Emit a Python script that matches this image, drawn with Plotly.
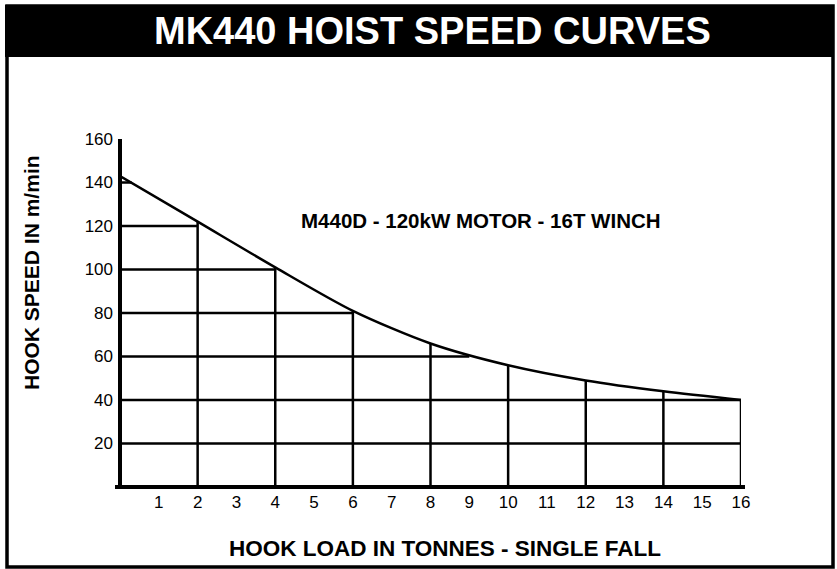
import plotly.graph_objects as go

# ---- data ----
loads = [0, 2, 4, 6, 8, 10, 12, 14, 16]              # tonnes
speeds = [143, 122, 101, 81, 66, 56, 49, 44, 40]      # m/min

# horizontal grid levels and the load where each one stops (at the curve)
grid_levels = [20, 40, 60, 80, 100, 120, 140]
grid_ends = [16, 16, 9, 6, 4, 2, 0.3]

# vertical grid loads (each rises to the curve)
vgrid_loads = [2, 4, 6, 8, 10, 12, 14, 16]

x_ticks = list(range(1, 17))
y_ticks = [20, 40, 60, 80, 100, 120, 140, 160]

title_text = "MK440 HOIST SPEED CURVES"
curve_label = "M440D - 120kW MOTOR - 16T WINCH"
x_title = "HOOK LOAD IN TONNES - SINGLE FALL"
y_title = "HOOK SPEED IN m/min"

# ---- layout geometry (pixels) ----
W, H = 837, 569
L, R, T, B = 120, 741, 139, 487
PW, PH = R - L, B - T


def px(x):
    return (x - L) / PW


def py(y):
    return (B - y) / PH


FONT = "Liberation Sans, Arial, sans-serif"

fig = go.Figure()

# speed at each vertical grid load taken from the curve data
speed_at = dict(zip(loads, speeds))

# horizontal grid lines
for lvl, end in zip(grid_levels, grid_ends):
    fig.add_trace(go.Scatter(x=[0, end], y=[lvl, lvl], mode="lines",
                             line=dict(color="black", width=2.5),
                             hoverinfo="skip", showlegend=False))
# vertical grid lines
for ld in vgrid_loads:
    fig.add_trace(go.Scatter(x=[ld, ld], y=[0, speed_at[ld]], mode="lines",
                             line=dict(color="black", width=2.5),
                             hoverinfo="skip", showlegend=False))

# the speed curve
fig.add_trace(go.Scatter(x=loads, y=speeds, mode="lines",
                         line=dict(color="black", width=2.5, shape="spline", smoothing=0.8),
                         showlegend=False, name="Hook speed"))

shapes = [
    # outer frame
    dict(type="rect", xref="paper", yref="paper",
         x0=px(7), x1=px(833), y0=py(567), y1=py(6),
         line=dict(color="black", width=3.5), fillcolor="rgba(0,0,0,0)", layer="below"),
    # title bar
    dict(type="rect", xref="paper", yref="paper",
         x0=px(5), x1=px(833), y0=py(57), y1=py(5),
         line=dict(width=0), fillcolor="black", layer="below"),
    # y axis line
    dict(type="line", xref="paper", yref="paper",
         x0=0, x1=0, y0=py(489), y1=1,
         line=dict(color="black", width=4)),
    # x axis line
    dict(type="line", xref="paper", yref="paper",
         x0=px(115), x1=px(745), y0=0, y1=0,
         line=dict(color="black", width=4)),
]

annotations = [
    dict(text="<b>" + title_text + "</b>", xref="paper", yref="paper",
         x=px(432), y=py(31), xanchor="center", yanchor="middle", showarrow=False,
         font=dict(family=FONT, size=38, color="white")),
    dict(text="<b>" + curve_label + "</b>", xref="paper", yref="paper",
         x=px(481), y=py(220), xanchor="center", yanchor="middle", showarrow=False,
         font=dict(family=FONT, size=20.5, color="black")),
    dict(text="<b>" + x_title + "</b>", xref="paper", yref="paper",
         x=px(445), y=py(548), xanchor="center", yanchor="middle", showarrow=False,
         font=dict(family=FONT, size=22.5, color="black")),
    dict(text="<b>" + y_title + "</b>", xref="paper", yref="paper",
         x=px(31), y=py(273), xanchor="center", yanchor="middle", showarrow=False,
         textangle=-90, font=dict(family=FONT, size=21, color="black")),
]

fig.update_layout(
    width=W, height=H,
    margin=dict(l=L, r=W - R, t=T, b=H - B, pad=0),
    paper_bgcolor="white", plot_bgcolor="white",
    shapes=shapes, annotations=annotations,
    xaxis=dict(range=[0, 16], tickvals=x_ticks, ticktext=[str(v) for v in x_ticks],
               showgrid=False, zeroline=False, showline=False, ticks="",
               ticklabelstandoff=3,
               tickfont=dict(family=FONT, size=17, color="black"), fixedrange=True),
    yaxis=dict(range=[0, 160], tickvals=y_ticks, ticktext=[str(v) for v in y_ticks],
               showgrid=False, zeroline=False, showline=False, ticks="",
               ticklabelstandoff=6,
               tickfont=dict(family=FONT, size=17, color="black"), fixedrange=True),
    showlegend=False,
)

fig.write_html("out.html",
               config={"displayModeBar": False},
               post_script="document.body.style.margin='0';document.body.style.overflow='hidden';")
